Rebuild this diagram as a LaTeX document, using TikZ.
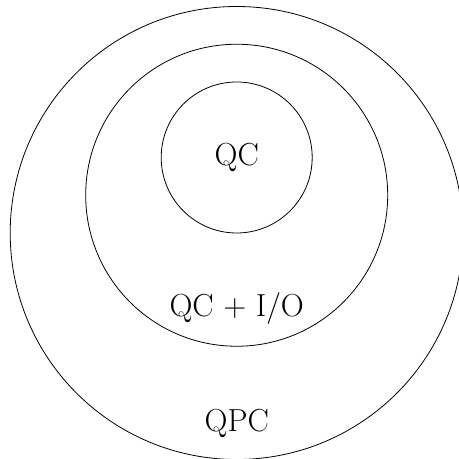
\documentclass[tikz,border=0pt]{standalone}
\begin{document}
\begin{tikzpicture}[
  ring/.style={draw=black, line width=0.6pt},
  lbl/.style={anchor=base, inner sep=0pt, font=\fontsize{24}{29}\selectfont}
]
\useasboundingbox (-6.270,-7.987) rectangle (5.889,4.172);
\clip (-6.270,-7.987) rectangle (5.889,4.172);
\coordinate (c1) at (0,0);
\coordinate (c2) at (0,-1);
\coordinate (c3) at (0,-2);
\draw[ring] (c3) circle (6);
\draw[ring] (c2) circle (4);
\draw[ring] (c1) circle (2);
\node[lbl] (qc) at (0,-0.225) {QC};
\node[lbl] (qcio) at (0,-4.217) {QC + I/O};
\node[lbl] (qpc) at (0,-7.264) {QPC};
\end{tikzpicture}
\end{document}
